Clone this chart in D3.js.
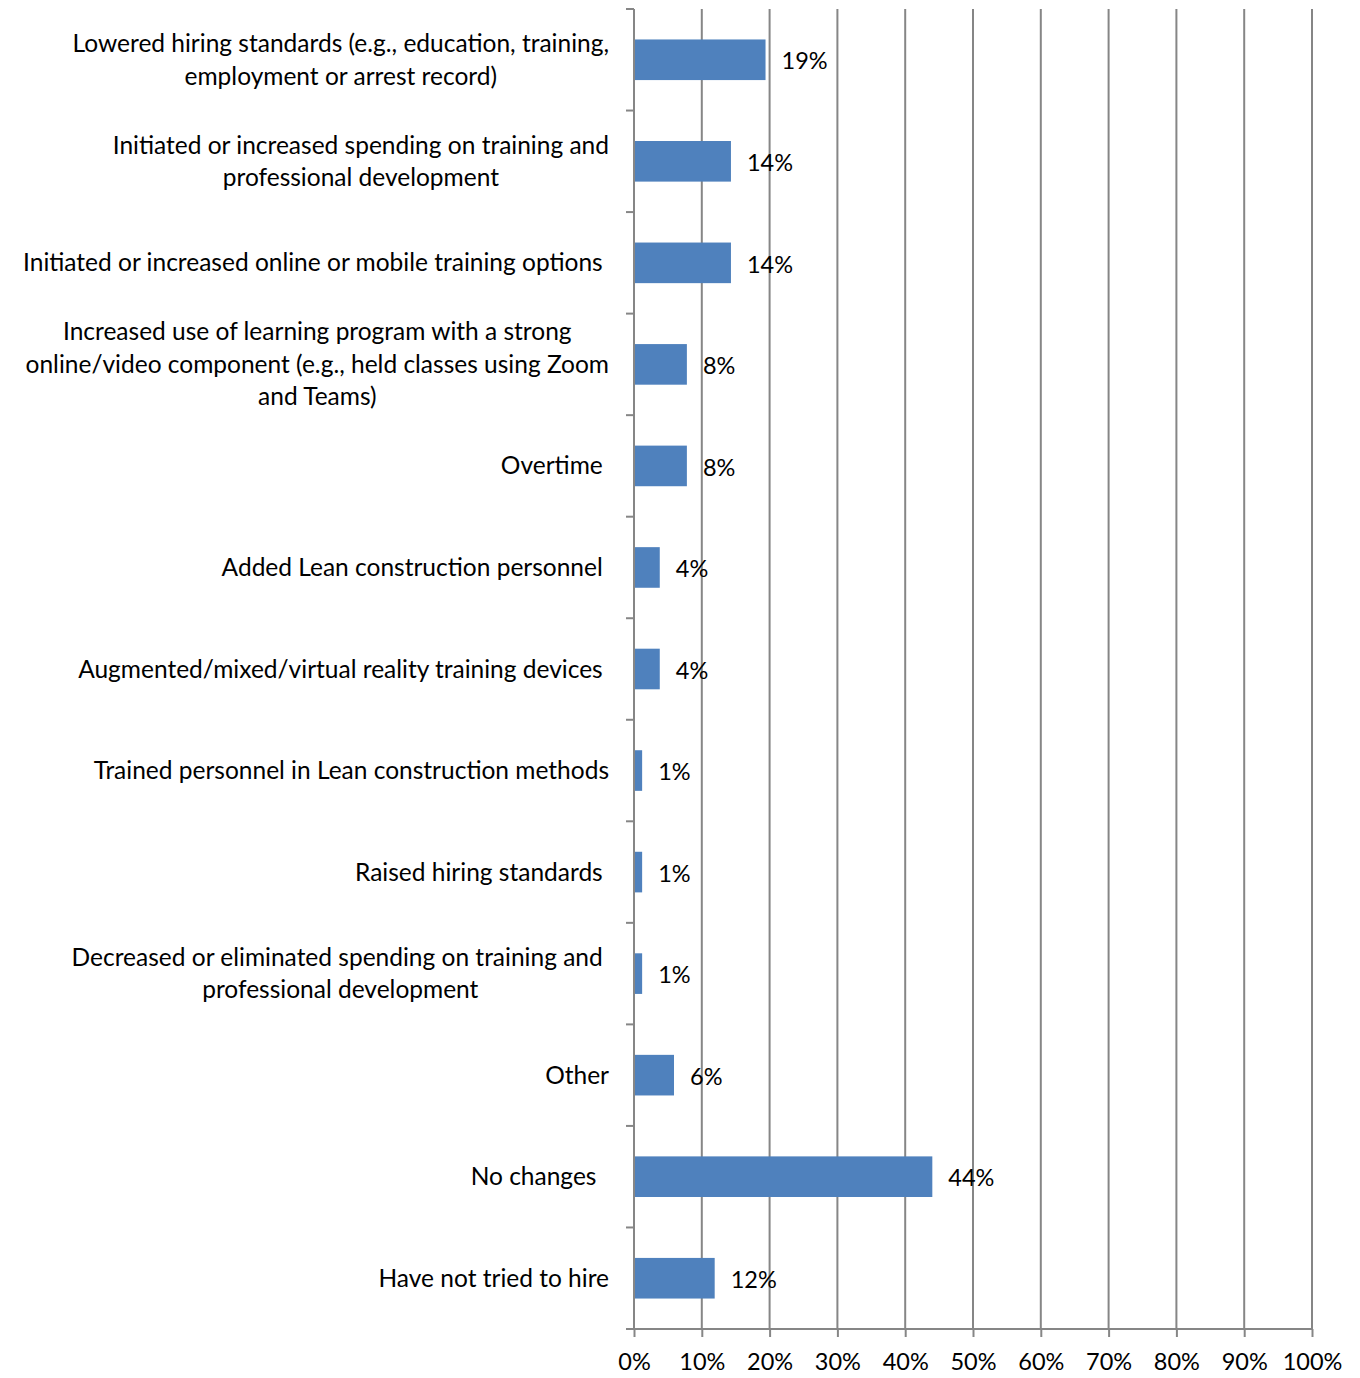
<!DOCTYPE html>
<html>
<head>
<meta charset="utf-8">
<script src="https://cdn.jsdelivr.net/npm/d3@7"></script>
<style>
  body { margin: 0; background: #fff; }
  text { font-family: Lato, "Open Sans", sans-serif; fill: #000; white-space: pre; }
</style>
</head>
<body>
<svg width="1360" height="1378"></svg>
<script>
// categories, one array of lines per label (wrapped as in the original, trailing spaces kept)
var categories = [
  ["Lowered hiring standards (e.g., education, training,", "employment or arrest record)"],
  ["Initiated or increased spending on training and", "professional development"],
  ["Initiated or increased online or mobile training options "],
  ["Increased use of learning program with a strong", "online/video component (e.g., held classes using Zoom", "and Teams)"],
  ["Overtime "],
  ["Added Lean construction personnel "],
  ["Augmented/mixed/virtual reality training devices "],
  ["Trained personnel in Lean construction methods"],
  ["Raised hiring standards "],
  ["Decreased or eliminated spending on training and ", "professional development"],
  ["Other"],
  ["No changes  "],
  ["Have not tried to hire"]
];
var values = [19.4, 14.3, 14.3, 7.8, 7.8, 3.8, 3.8, 1.2, 1.2, 1.2, 5.9, 44.0, 11.9];
var xTicks = [0, 10, 20, 30, 40, 50, 60, 70, 80, 90, 100];

var svg = d3.select("svg");
var plotL = 634, plotR = 1312, plotT = 9, plotB = 1329;
var gridColor = "#868686";

var x = d3.scaleLinear().domain([0, 100]).range([plotL, plotR]);
var y = d3.scaleBand()
    .domain(d3.range(categories.length))
    .range([plotT, plotB])
    .paddingInner(0.6)
    .paddingOuter(0.3);

// vertical gridlines
svg.append("g").selectAll("line")
    .data(xTicks.slice(1))
    .enter().append("line")
    .attr("x1", d => x(d)).attr("x2", d => x(d))
    .attr("y1", plotT).attr("y2", plotB)
    .attr("stroke", gridColor).attr("stroke-width", 2);

// bars
svg.append("g").selectAll("rect")
    .data(values)
    .enter().append("rect")
    .attr("x", x(0) + 1)
    .attr("y", (d, i) => y(i))
    .attr("width", d => x(d) - x(0) - 1)
    .attr("height", y.bandwidth())
    .attr("fill", "#4f81bd");

// value labels
svg.append("g").selectAll("text")
    .data(values)
    .enter().append("text")
    .attr("x", d => x(d) + 16)
    .attr("y", (d, i) => y(i) + y.bandwidth() / 2 + 1.5)
    .attr("dy", "0.35em")
    .attr("font-size", 23.5)
    .text(d => Math.round(d) + "%");

// left axis line + category ticks
svg.append("line")
    .attr("x1", plotL).attr("x2", plotL)
    .attr("y1", plotT).attr("y2", plotB)
    .attr("stroke", gridColor).attr("stroke-width", 2);
var step = y.step();
svg.append("g").selectAll("line")
    .data(d3.range(categories.length + 1))
    .enter().append("line")
    .attr("x1", plotL - 8).attr("x2", plotL)
    .attr("y1", d => plotT + d * step).attr("y2", d => plotT + d * step)
    .attr("stroke", gridColor).attr("stroke-width", 2);

// bottom axis
var xAxis = d3.axisBottom(x)
    .tickValues(xTicks)
    .tickSize(8)
    .tickSizeOuter(0)
    .tickPadding(16)
    .tickFormat(d => d + "%");
var ax = svg.append("g")
    .attr("transform", "translate(0," + plotB + ")")
    .call(xAxis);
ax.select(".domain").attr("stroke", gridColor).attr("stroke-width", 2)
    .attr("d", "M" + (plotL - 8) + ",0H" + plotR);
ax.selectAll(".tick line").attr("stroke", gridColor).attr("stroke-width", 2);
ax.selectAll(".tick text")
    .attr("font-size", 23.5)
    .attr("font-family", "Lato, sans-serif")
    .attr("fill", "#000");

// category labels: block right-aligned to axis, lines centred within the block
var lineH = 32.5;
var labels = svg.append("g");
categories.forEach(function (lines, i) {
  var g = labels.append("g");
  var cy = y(i) + y.bandwidth() / 2;
  var t = g.selectAll("text").data(lines).enter().append("text")
      .attr("font-size", 24.5)
      .attr("y", (d, k) => cy + (k - (lines.length - 1) / 2) * lineH)
      .attr("dy", "0.35em")
      .attr("text-anchor", "middle")
      .text(d => d);
  var w = d3.max(t.nodes(), n => n.getComputedTextLength());
  t.attr("x", 609 - w / 2);
});
</script>
</body>
</html>
